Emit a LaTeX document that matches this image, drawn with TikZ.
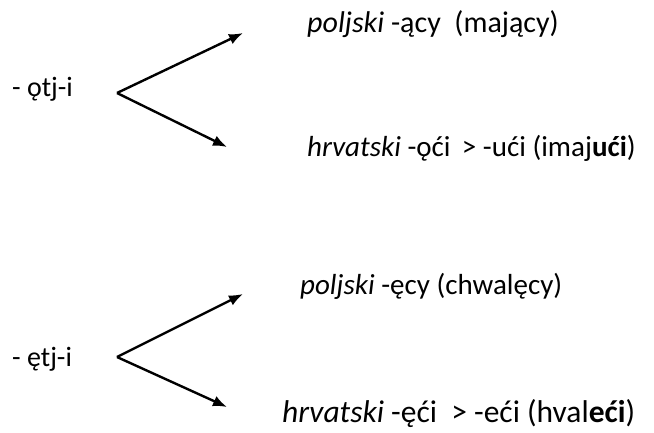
\documentclass[tikz,border=0pt]{standalone}
\usepackage{fontspec}
\setmainfont{Carlito}
\usepackage{tikz}
\usetikzlibrary{arrows.meta}

\tikzset{
	word/.style={anchor=west,inner sep=0pt,font=\fontsize{#1}{#1}\selectfont},
	word/.default=30,
	branch/.style={line width=2.4pt,-{Latex[length=14pt,width=11pt]}}
}

\begin{document}
\begin{tikzpicture}[x=1pt,y=-1pt]
	\useasboundingbox (0,0) rectangle (654,432);
	%
	\node[word=28] (otj) at (12,89) {- ǫtj-i};
	\node[word=30] (pl1) at (307,24) {\textit{poljski} -ący\ \ (mający)};
	\node[word=29] (hr1) at (307,148) {\textit{hrvatski} -ǫći\ \,> -ući (imaj\textbf{ući})};
	%
	\node[word=28] (etj) at (12,359) {- ętj-i};
	\node[word=29] (pl2) at (300,286) {\textit{poljski} -ęcy (chwalęcy)};
	\node[word=31.5] (hr2) at (282,414) {\textit{hrvatski} -ęći\ \ > -eći (hval\textbf{eći})};
	%
	\coordinate (v1) at (117,93);
	\coordinate (t1) at (243,33);
	\coordinate (b1) at (227,147);
	\coordinate (v2) at (117,357);
	\coordinate (t2) at (243,294);
	\coordinate (b2) at (227,407);
	%
	\draw[branch] (v1) -- (t1);
	\draw[branch] (v1) -- (b1);
	\draw[branch] (v2) -- (t2);
	\draw[branch] (v2) -- (b2);
\end{tikzpicture}
\end{document}
